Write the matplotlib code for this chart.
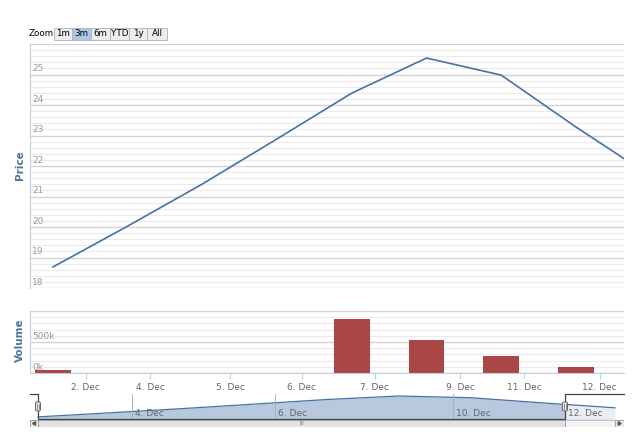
"""
Highstock-style price/volume chart with navigator
"""
import matplotlib
matplotlib.use('Agg')
import matplotlib.pyplot as plt
import matplotlib.transforms as mtransforms
from matplotlib.patches import Rectangle, FancyBboxPatch, Polygon
import numpy as np

# data
price = [18.69, 20.03, 21.41, 22.89, 24.39, 25.54, 24.98, 23.28, 21.67]
volume = [45000, 0, 0, 0, 876000, 530000, 280000, 90000, 0]
tick_pos = [0.44, 1.30, 2.37, 3.33, 4.31, 5.45, 6.31, 7.32]
tick_labels = ['2. Dec', '4. Dec', '5. Dec', '6. Dec', '7. Dec', '9. Dec', '11. Dec', '12. Dec']
nav_pos = [1.303, 3.286, 5.754, 7.307]
nav_labels = ['4. Dec', '6. Dec', '10. Dec', '12. Dec']
zoom_buttons = ['1m', '3m', '6m', 'YTD', '1y', 'All']
selected_button = '3m'

W, H = 640, 433
LINE = '#4572A7'
BAR = '#AA4643'
LABEL = '#666666'
TITLE = '#4D759E'
MAJOR = '#D4D4D4'
MINOR = '#EBEBEB'

plt.rcParams['font.family'] = ['DejaVu Sans']
fig = plt.figure(figsize=(W / 100, H / 100), dpi=100)


def box(left, top, right, bottom):
    return [left / W, 1 - bottom / H, (right - left) / W, (bottom - top) / H]


x = np.arange(len(price))
xlim_main = (-0.308, 7.644)

# price panel
ax1 = fig.add_axes(box(30, 44, 624, 288))
ax1.plot(x, price, color=LINE, lw=1.2)
ax1.set_xlim(*xlim_main)
ax1.set_ylim(18, 26)
ax1.set_yticks(np.arange(18, 27, 1))
ax1.set_yticks(np.arange(18, 26.01, 0.2), minor=True)
ax1.grid(True, which='minor', axis='y', color=MINOR, lw=0.8)
ax1.grid(True, which='major', axis='y', color=MAJOR, lw=1.0)
ax1.tick_params(which='both', length=0, labelleft=False, labelbottom=False)
ax1.set_xticks([])
for s in ['top', 'right', 'bottom']:
    ax1.spines[s].set_visible(False)
ax1.spines['left'].set_color('#C0D0E0')
trans1 = mtransforms.blended_transform_factory(ax1.transAxes, ax1.transData)
for v in range(18, 26):
    ax1.text(0.004, v + 0.04, str(v), transform=trans1, fontsize=6.5, color='#999999',
             va='bottom', ha='left')
fig.text(20 / W, 1 - 165 / H, 'Price', rotation=90, color=TITLE, fontsize=7.5,
         fontweight='bold', ha='center', va='center')

# volume panel
ax2 = fig.add_axes(box(30, 311, 624, 373))
ax2.bar(x, volume, width=0.48, color=BAR)
ax2.set_xlim(*xlim_main)
ax2.set_ylim(0, 1000000)
ax2.set_yticks([0, 500000, 1000000])
ax2.set_yticks(np.arange(0, 1000001, 100000), minor=True)
ax2.grid(True, which='minor', axis='y', color=MINOR, lw=0.8)
ax2.grid(True, which='major', axis='y', color=MAJOR, lw=1.0)
ax2.set_axisbelow(True)
ax2.tick_params(axis='y', which='both', length=0, labelleft=False)
ax2.set_xticks(tick_pos)
ax2.set_xticklabels(tick_labels, fontsize=6.5, color=LABEL)
ax2.tick_params(axis='x', length=4, color='#C0D0E0', pad=3)
for s in ['top', 'right']:
    ax2.spines[s].set_visible(False)
ax2.spines['left'].set_color('#C0D0E0')
ax2.spines['bottom'].set_color('#C0D0E0')
trans2 = mtransforms.blended_transform_factory(ax2.transAxes, ax2.transData)
for v, lab in [(0, '0k'), (500000, '500k')]:
    ax2.text(0.004, v + 10000, lab, transform=trans2, fontsize=6.5, color='#999999',
             va='bottom', ha='left')
fig.text(20 / W, 1 - 340 / H, 'Volume', rotation=90, color=TITLE, fontsize=7.5,
         fontweight='bold', ha='center', va='center')

# navigator
sel_min, sel_max = 0.0, 7.307
xlim_nav = (-0.111, 8.125)
ax3 = fig.add_axes(box(30, 394, 624, 419))
ax3.fill_between(x, price, 18, color=LINE, alpha=0.38, lw=0)
ax3.plot(x, price, color=LINE, lw=0.9)
ax3.axvspan(sel_max, xlim_nav[1], color='white', alpha=0.7, lw=0)
ax3.set_xlim(*xlim_nav)
ax3.set_ylim(18, 26.2)
ax3.axis('off')
trans3 = mtransforms.blended_transform_factory(ax3.transData, ax3.transAxes)
for p, lab in zip(nav_pos, nav_labels):
    ax3.plot([p, p], [0, 1], transform=trans3, color='#B0B0B0', lw=0.7, clip_on=False)
    ax3.text(p + 0.04, 0.22, lab, transform=trans3, fontsize=6.5, color=LABEL,
             ha='left', va='center')
ax3.plot([xlim_nav[0], sel_min, sel_min, sel_max, sel_max, xlim_nav[1]],
         [1, 1, 0, 0, 1, 1], transform=trans3, color='#444444', lw=0.9, clip_on=False)

# scrollbar
ax4 = fig.add_axes(box(30, 420, 624, 427))
ax4.set_xlim(*xlim_nav)
ax4.set_ylim(0, 1)
ax4.axis('off')
ax4.add_patch(Rectangle((xlim_nav[0], 0), xlim_nav[1] - xlim_nav[0], 1,
                        facecolor='#F2F2F2', edgecolor='#BBBBBB', lw=0.6))
ax4.add_patch(Rectangle((sel_min, 0), sel_max - sel_min, 1,
                        facecolor='#E2E2E2', edgecolor='#999999', lw=0.6))
ax4.add_patch(Rectangle((xlim_nav[0], 0), sel_min - xlim_nav[0], 1,
                        facecolor='#E8E8E8', edgecolor='#999999', lw=0.6))
ax4.add_patch(Rectangle((8.0, 0), xlim_nav[1] - 8.0, 1,
                        facecolor='#E8E8E8', edgecolor='#999999', lw=0.6))
ax4.text((sel_min + sel_max) / 2, 0.45, 'III', fontsize=4, color='#777777',
         ha='center', va='center')
ax4.add_patch(Polygon([[-0.035, 0.25], [-0.035, 0.75], [-0.075, 0.5]], closed=True,
                      color='#555555'))
ax4.add_patch(Polygon([[8.045, 0.25], [8.045, 0.75], [8.085, 0.5]], closed=True,
                      color='#555555'))

# navigator handles (drawn in figure pixel space)
for hx in [38, 565]:
    fig.patches.append(FancyBboxPatch(((hx - 2.5) / W, 1 - 411 / H), 5 / W, 9 / H,
                                      boxstyle='round,pad=0,rounding_size=0.003',
                                      transform=fig.transFigure, facecolor='#EBE7E8',
                                      edgecolor='#666666', lw=0.7, zorder=10))
    for dx in [-0.8, 0.8]:
        fig.lines.append(plt.Line2D([(hx + dx) / W] * 2, [1 - 409 / H, 1 - 404 / H],
                                    transform=fig.transFigure, color='#666666', lw=0.5,
                                    zorder=11))

# range selector buttons
fig.text(29 / W, 1 - 34 / H, 'Zoom', fontsize=6.3, color='#000000', ha='left', va='center')
bx = 54
widths = [18, 19, 19, 19, 18, 20]
for lab, w in zip(zoom_buttons, widths):
    fc = '#ACC8E8' if lab == selected_button else '#EDEDED'
    fig.patches.append(Rectangle((bx / W, 1 - 40 / H), w / W, 12 / H,
                                 transform=fig.transFigure, facecolor=fc,
                                 edgecolor='#B0B0B0', lw=0.6))
    fig.text((bx + w / 2) / W, 1 - 34 / H, lab, fontsize=6.3, color='#000000',
             ha='center', va='center')
    bx += w

plt.savefig('out.png', dpi=100)
